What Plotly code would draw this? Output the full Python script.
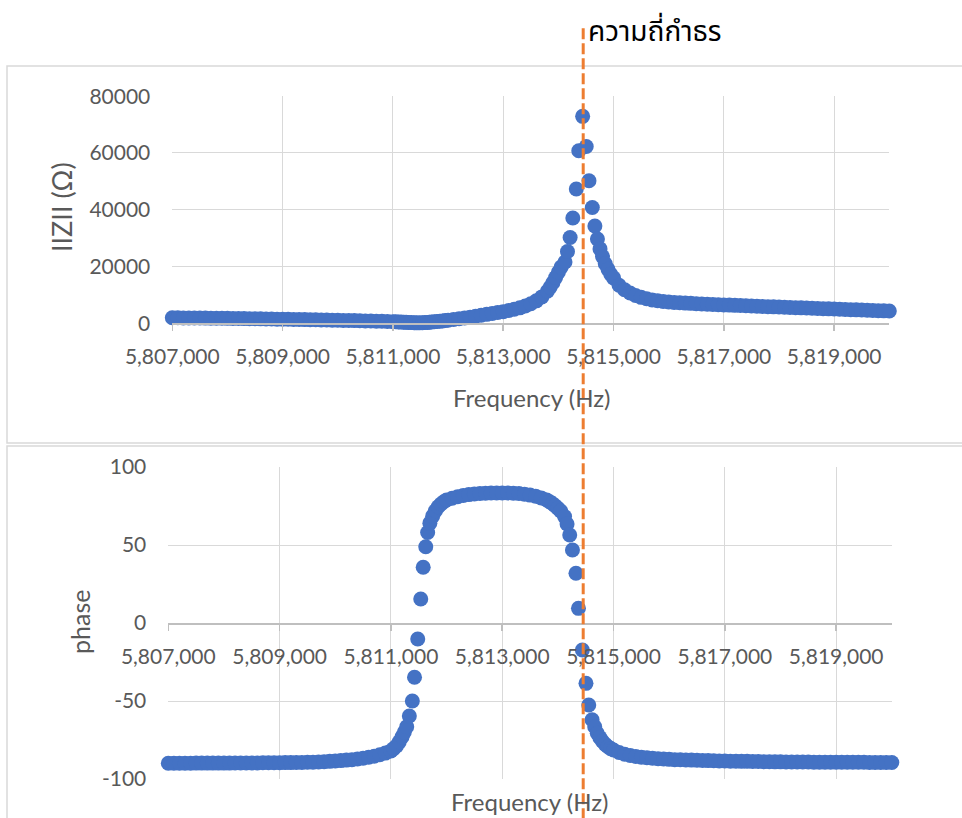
import plotly.graph_objects as go

# ---------------- data ----------------
freq_hz = [
    5807000, 5807100, 5807200, 5807300, 5807400, 5807500, 5807600, 5807700, 5807800, 5807900,
    5808000, 5808100, 5808200, 5808300, 5808400, 5808500, 5808600, 5808700, 5808800, 5808900,
    5809000, 5809100, 5809200, 5809300, 5809400, 5809500, 5809600, 5809700, 5809800, 5809900,
    5810000, 5810100, 5810200, 5810300, 5810400, 5810500, 5810600, 5810700, 5810800, 5810900,
    5811000,
    5811050, 5811100, 5811150, 5811200, 5811240, 5811284, 5811331, 5811385, 5811424, 5811482,
    5811536, 5811580, 5811626, 5811660, 5811700, 5811750, 5811800, 5811850, 5811900, 5811950,
    5812000,
    5812100, 5812200, 5812300, 5812400, 5812500, 5812600, 5812700, 5812800, 5812900, 5813000,
    5813100, 5813200, 5813300, 5813400, 5813500, 5813600, 5813700, 5813800,
    5813850, 5813900, 5813950, 5814000, 5814050, 5814120, 5814165, 5814213, 5814262, 5814325,
    5814370, 5814440, 5814505, 5814555, 5814615, 5814662, 5814708, 5814755, 5814800, 5814850,
    5814900, 5814950, 5815000,
    5815100, 5815200, 5815300, 5815400, 5815500, 5815600, 5815700, 5815800, 5815900, 5816000,
    5816100, 5816200, 5816300, 5816400, 5816500, 5816600, 5816700, 5816800, 5816900, 5817000,
    5817100, 5817200, 5817300, 5817400, 5817500, 5817600, 5817700, 5817800, 5817900, 5818000,
    5818100, 5818200, 5818300, 5818400, 5818500, 5818600, 5818700, 5818800, 5818900, 5819000,
    5819100, 5819200, 5819300, 5819400, 5819500, 5819600, 5819700, 5819800, 5819900, 5820000,
]

impedance_ohm = [
    1950, 1930, 1910, 1890, 1870, 1850, 1830, 1810, 1790, 1770,
    1740, 1710, 1680, 1650, 1620, 1590, 1560, 1530, 1500, 1470,
    1440, 1410, 1380, 1350, 1310, 1270, 1230, 1190, 1150, 1110,
    1070, 1030, 990, 950, 900, 850, 800, 750, 700, 640,
    580,
    530, 480, 430, 380, 340, 300, 250, 200, 160, 150,
    180, 240, 310, 370, 450, 550, 650, 750, 850, 970,
    1100,
    1330, 1580, 1860, 2170, 2500, 2830, 3150, 3470, 3780, 4100,
    4500, 4950, 5450, 6100, 6900, 7900, 9300, 11300,
    12700, 14300, 16100, 18000, 19800, 21600, 25300, 30200, 37100, 47300,
    60800, 72900, 62300, 50200, 40800, 34300, 29700, 26200, 23500, 21000,
    19000, 17300, 16000,
    13400, 11800, 10700, 9800, 9150, 8650, 8250, 7950, 7700, 7500,
    7350, 7230, 7120, 7020, 6920, 6830, 6740, 6650, 6570, 6490,
    6410, 6330, 6250, 6170, 6090, 6010, 5930, 5860, 5790, 5720,
    5650, 5580, 5510, 5440, 5370, 5300, 5230, 5160, 5090, 5020,
    4950, 4880, 4810, 4740, 4670, 4600, 4530, 4460, 4390, 4320,
]

phase_deg = [
    -89.9, -89.9, -89.9, -89.9, -89.9, -89.8, -89.8, -89.8, -89.8, -89.8,
    -89.8, -89.8, -89.7, -89.7, -89.7, -89.7, -89.7, -89.6, -89.6, -89.6,
    -89.6, -89.5, -89.5, -89.4, -89.4, -89.3, -89.2, -89.1, -88.9, -88.7,
    -88.5, -88.2, -87.9, -87.6, -87.2, -86.7, -86.1, -85.4, -84.5, -83.4,
    -82.0,
    -80.5, -78.8, -76.2, -73.0, -70.0, -66.5, -59.6, -50.0, -34.8, -10.3,
    15.4, 35.7, 48.9, 58.0, 64.0, 68.5, 72.0, 74.5, 76.3, 77.7,
    78.8,
    80.0, 81.0, 81.8, 82.3, 82.7, 83.0, 83.2, 83.3, 83.4, 83.4,
    83.3, 83.2, 83.0, 82.6, 82.0, 81.3, 80.2, 78.8,
    77.8, 76.6, 75.2, 73.6, 71.8, 68.2, 63.5, 56.4, 46.8, 31.9,
    9.4, -17.3, -38.7, -52.6, -62.0, -66.5, -70.7, -73.5, -75.8, -77.8,
    -79.3, -80.5, -81.4,
    -83.0, -84.1, -84.9, -85.5, -86.0, -86.4, -86.7, -87.0, -87.2, -87.4,
    -87.6, -87.7, -87.8, -87.9, -88.0, -88.1, -88.2, -88.3, -88.4, -88.5,
    -88.6, -88.6, -88.7, -88.7, -88.8, -88.8, -88.9, -88.9, -89.0, -89.0,
    -89.1, -89.1, -89.1, -89.1, -89.1, -89.2, -89.2, -89.2, -89.2, -89.2,
    -89.3, -89.3, -89.3, -89.3, -89.3, -89.4, -89.4, -89.4, -89.4, -89.4,
]

resonance_hz = 5814450
resonance_label = "ความถี่กำธร"
x_title = "Frequency (Hz)"
y1_title = "IIZII (Ω)"
y2_title = "phase"

x_min, x_max, x_step = 5807000, 5820000, 2000
z_min, z_max, z_step = 0, 80000, 20000
phase_tick_vals = [-100, -50, 0, 50, 100]
phase_tick_text = ["-100", "-50", "0", "50", "100"]
p_min, p_max = -100, 100

# ---------------- styling ----------------
W, H = 962, 818
BLUE = "#4472C4"
ORANGE = "#ED7D31"
GRID = "#d9d9d9"
AXIS = "#bfbfbf"
TXT = "#595959"
FONT = "Lato, Carlito, Calibri, sans-serif"
THAI_FONT = "Noto Sans Thai, Noto Sans Thai Looped, Loma, Garuda, Tlwg Typo, sans-serif"


def px(x):
    return x / W


def py(y):
    return 1 - y / H


fig = go.Figure()
fig.add_trace(go.Scatter(x=freq_hz, y=impedance_ohm, mode="markers",
                         marker=dict(size=15, color=BLUE, line=dict(width=0)),
                         cliponaxis=False, xaxis="x", yaxis="y", hoverinfo="skip"))
fig.add_trace(go.Scatter(x=freq_hz, y=phase_deg, mode="markers",
                         marker=dict(size=15, color=BLUE, line=dict(width=0)),
                         cliponaxis=False, xaxis="x2", yaxis="y2", hoverinfo="skip"))

tickfont = dict(family=FONT, size=21, color=TXT)

xcommon = dict(range=[x_min, x_max], tick0=x_min, dtick=x_step, tickformat=",d",
               showgrid=True, gridcolor=GRID, gridwidth=1, zeroline=False,
               showline=True, linecolor=AXIS, linewidth=1.5,
               ticks="outside", ticklen=6, tickcolor=AXIS, tickwidth=1.5,
               tickfont=tickfont, ticklabelstandoff=8, fixedrange=True,
               automargin=False)

fig.update_layout(
    template="none",
    width=W, height=H, margin=dict(l=0, r=0, t=0, b=0, pad=0), autosize=False,
    paper_bgcolor="white", plot_bgcolor="rgba(0,0,0,0)", showlegend=False,
    xaxis=dict(domain=[px(172.3), px(889.3)], anchor="y", **xcommon),
    yaxis=dict(domain=[py(323.3), py(96.2)], range=[z_min, z_max], dtick=z_step,
               tickformat="d", showgrid=True, gridcolor=GRID, zeroline=False,
               showline=False, ticks="", tickfont=tickfont, ticklabelstandoff=21,
               anchor="x", fixedrange=True, automargin=False),
    xaxis2=dict(domain=[px(168.3), px(891.8)], anchor="free", position=py(623), **xcommon),
    yaxis2=dict(domain=[py(779), py(467)], range=[p_min, p_max],
                tickmode="array", tickvals=phase_tick_vals, ticktext=phase_tick_text,
                showgrid=True, gridcolor=GRID, zeroline=False,
                showline=False, ticks="", tickfont=tickfont, ticklabelstandoff=21,
                anchor="x2", fixedrange=True, automargin=False),
)

shapes = [
    dict(type="rect", xref="paper", yref="paper", x0=px(7), x1=1.02, y0=py(443), y1=py(66),
         line=dict(color=GRID, width=1.5), fillcolor="rgba(0,0,0,0)", layer="below"),
    dict(type="rect", xref="paper", yref="paper", x0=px(7), x1=1.02, y0=-0.02, y1=py(446),
         line=dict(color=GRID, width=1.5), fillcolor="rgba(0,0,0,0)", layer="below"),
    dict(type="line", xref="x", yref="paper", x0=resonance_hz, x1=resonance_hz,
         y0=-0.02, y1=py(25), line=dict(color=ORANGE, width=3, dash="11px,4px"), layer="above"),
]
fig.update_layout(shapes=shapes)

titlefont = dict(family=FONT, size=24, color=TXT)
annotations = [
    dict(text=x_title, xref="paper", yref="paper", x=px(531), y=py(397), showarrow=False,
         font=titlefont, xanchor="center", yanchor="middle"),
    dict(text=x_title, xref="paper", yref="paper", x=px(529), y=py(801), showarrow=False,
         font=titlefont, xanchor="center", yanchor="middle"),
    dict(text=y1_title, xref="paper", yref="paper", x=px(62), y=py(207), showarrow=False,
         font=dict(family=FONT, size=27, color=TXT), textangle=-90,
         xanchor="center", yanchor="middle"),
    dict(text=y2_title, xref="paper", yref="paper", x=px(80), y=py(622), showarrow=False,
         font=dict(family=FONT, size=25, color=TXT), textangle=-90,
         xanchor="center", yanchor="middle"),
    dict(text=resonance_label, xref="x", yref="paper", x=resonance_hz, y=py(33), showarrow=False,
         font=dict(family=THAI_FONT, size=28, color="#000000"), xanchor="left", yanchor="middle",
         xshift=3),
]
fig.update_layout(annotations=annotations)

fig.write_html("out.html", config={"displayModeBar": False, "staticPlot": True},
               post_script="document.body.style.margin='0';document.body.style.overflow='hidden';")
